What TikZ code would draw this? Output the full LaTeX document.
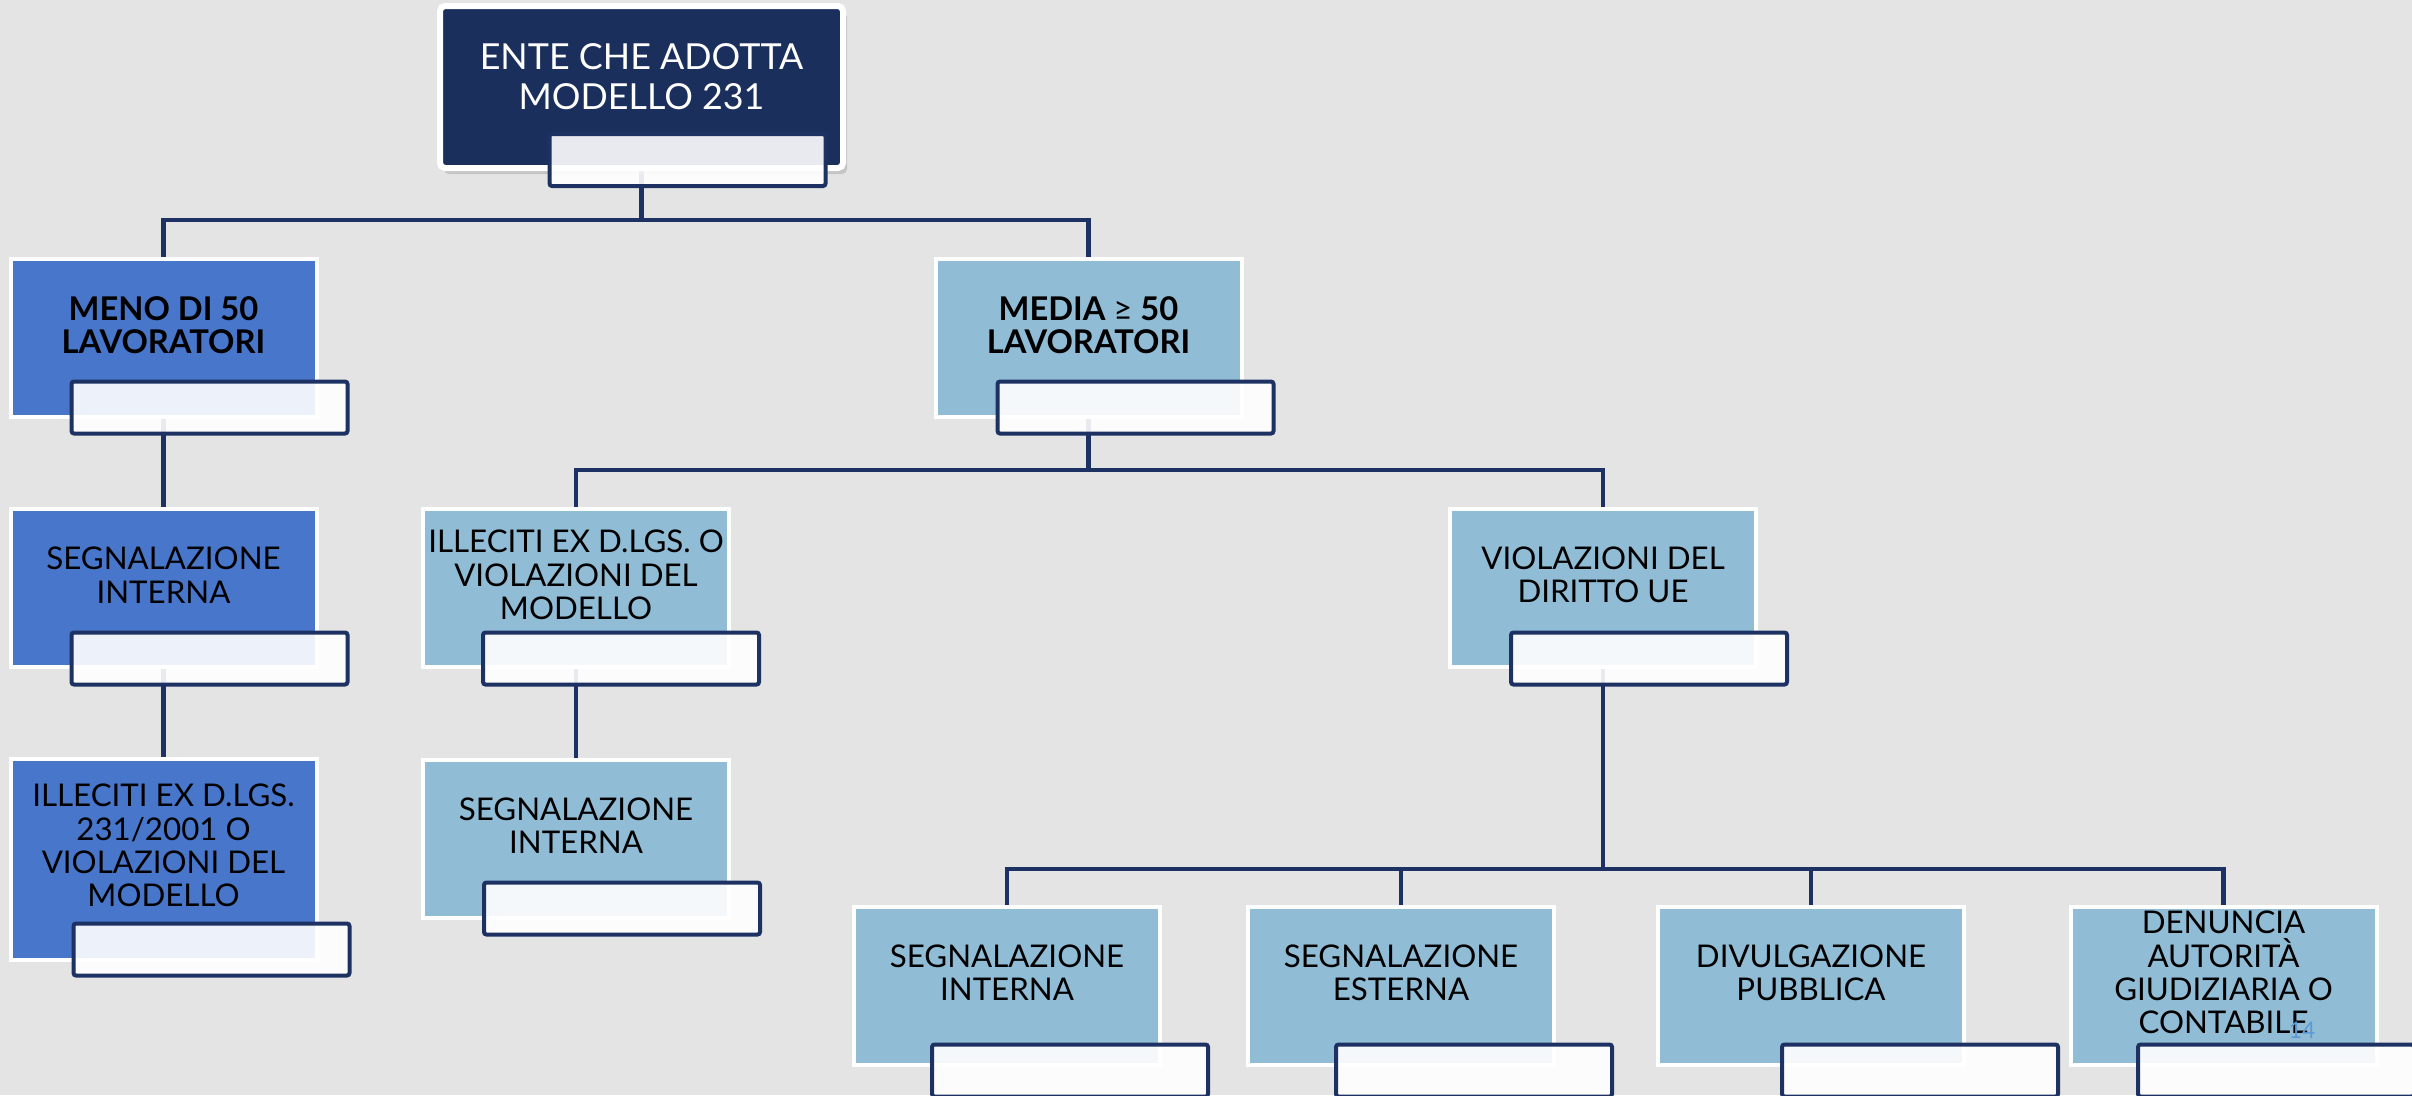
\documentclass[tikz,border=0pt]{standalone}
\usepackage{fontspec}
\setmainfont{Lato}
\usetikzlibrary{calc,positioning,shadows}
\definecolor{paper}{HTML}{E4E4E4}
\definecolor{navy}{HTML}{1D3262}
\definecolor{navyfill}{HTML}{1B2F5C}
\definecolor{royal}{HTML}{4876CB}
\definecolor{sky}{HTML}{90BCD6}
\definecolor{pagenum}{HTML}{5B9BD5}
\pgfdeclarelayer{bg}
\pgfdeclarelayer{lines}
\pgfsetlayers{bg,lines,main}
\tikzset{
  box/.style={draw=white, line width=0.4mm, minimum width=30.6mm, minimum height=15.8mm, inner sep=0pt},
  royalbox/.style={box, fill=royal},
  skybox/.style={box, fill=sky},
  topbox/.style={draw=white, line width=0.6mm, fill=navyfill, rounded corners=0.5mm,
    minimum width=40.3mm, minimum height=16.2mm, inner sep=0pt,
    drop shadow={shadow xshift=0.4mm, shadow yshift=-0.6mm, opacity=0.3}},
  tag/.style={draw=navy, line width=0.4mm, fill=white, fill opacity=0.9, rounded corners=0.25mm,
    minimum width=27.6mm, minimum height=5.2mm, inner sep=0pt},
  link/.style={draw=navy, line width=0.45mm},
  txt/.style={align=center, inner sep=0pt, text=black, font=\fontsize{8.9}{9.5}\selectfont},
  boldtxt/.style={txt, font=\bfseries\fontsize{9.3}{9.3}\selectfont},
}
\begin{document}
\begin{tikzpicture}[x=0.1mm,y=-0.1mm]
\useasboundingbox (0,0) rectangle (2412,1095);
\begin{pgfonlayer}{bg}
\fill[paper] (0,0) rectangle (2412,1095);
\end{pgfonlayer}
\clip (0,0) rectangle (2412,1095);
% boxes
\node[topbox] (ente) at (641.5,87) {};
\node[royalbox] (meno) at (163.5,337.5) {};
\node[skybox] (media) at (1088.5,337.5) {};
\node[royalbox] (segnL) at (163.5,588) {};
\node[skybox] (illM) at (576,588) {};
\node[skybox] (viol) at (1603,588) {};
\node[royalbox, minimum height=20.1mm] (ill231) at (163.5,859.5) {};
\node[skybox] (segnM) at (576,838.5) {};
\node[skybox] (intB) at (1007,985.5) {};
\node[skybox] (estB) at (1401,985.5) {};
\node[skybox] (divB) at (1811,985.5) {};
\node[skybox] (denB) at (2223.5,985.5) {};
% tags
\node[tag] (enteT) at ($(ente.south)+(46,-11)$) {};
\node[tag] (menoT) at ($(meno.south)+(46,-11)$) {};
\node[tag] (mediaT) at ($(media.south)+(47,-11)$) {};
\node[tag] (segnLT) at ($(segnL.south)+(46,-10.5)$) {};
\node[tag] (illMT) at ($(illM.south)+(45,-10.5)$) {};
\node[tag] (violT) at ($(viol.south)+(46,-10.5)$) {};
\node[tag] (ill231T) at ($(ill231.south)+(48,-12.5)$) {};
\node[tag] (segnMT) at ($(segnM.south)+(46,-11)$) {};
\node[tag] (intBT) at ($(intB.south)+(63,4)$) {};
\node[tag] (estBT) at ($(estB.south)+(73,4)$) {};
\node[tag] (divBT) at ($(divB.south)+(109,4)$) {};
\node[tag] (denBT) at ($(denB.south)+(52.5,4)$) {};
% texts
\node[txt, text=white, font=\fontsize{10.2}{11.4}\selectfont] (enteL) at ($(ente.center)+(0,-10)$) {ENTE CHE ADOTTA\\MODELLO 231};
\node[boldtxt] (menoL) at ($(meno.center)+(0,-12)$) {MENO DI 50\\LAVORATORI};
\node[boldtxt] (mediaL) at ($(media.center)+(0,-12)$) {MEDIA {\mdseries ≥} 50\\LAVORATORI};
\node[txt] (segnLL) at ($(segnL.center)+(0,-13)$) {SEGNALAZIONE\\INTERNA};
\node[txt] (illML) at ($(illM.center)+(0,-13)$) {ILLECITI EX D.LGS. O\\VIOLAZIONI DEL\\MODELLO};
\node[txt] (violL) at ($(viol.center)+(0,-13)$) {VIOLAZIONI DEL\\DIRITTO UE};
\node[txt] (ill231L) at ($(ill231.center)+(0,-14)$) {ILLECITI EX D.LGS.\\231/2001 O\\VIOLAZIONI DEL\\MODELLO};
\node[txt] (segnML) at ($(segnM.center)+(0,-13)$) {SEGNALAZIONE\\INTERNA};
\node[txt] (intBL) at ($(intB.center)+(0,-13)$) {SEGNALAZIONE\\INTERNA};
\node[txt] (estBL) at ($(estB.center)+(0,-13)$) {SEGNALAZIONE\\ESTERNA};
\node[txt] (divBL) at ($(divB.center)+(0,-13)$) {DIVULGAZIONE\\PUBBLICA};
\node[txt] (denBL) at ($(denB.center)+(0,-13)$) {DENUNCIA\\AUTORITÀ\\GIUDIZIARIA O\\CONTABILE};
\node[inner sep=0pt, text=pagenum, font=\fontsize{6.5}{7}\selectfont] (pageL) at (2302,1030) {14};
% connectors
\begin{pgfonlayer}{lines}
\coordinate (bus1) at (641.5,220);
\coordinate (bus2) at (1088.5,470);
\coordinate (bus3) at (1603,869);
\draw[link] (ente.center) -- (bus1);
\draw[link] (meno.center) |- (bus1) -| (media.center);
\draw[link] (meno.center) -- (segnL.center) -- (ill231.center);
\draw[link] (media.center) -- (bus2);
\draw[link] (illM.center) |- (bus2) -| (viol.center);
\draw[link] (illM.center) -- (segnM.center);
\draw[link] (viol.center) -- (bus3);
\draw[link] (intB.center) |- (bus3) -| (denB.center);
\foreach \b in {estB,divB}
  \draw[link] (\b.center) -- (\b.center |- bus3);
\end{pgfonlayer}
\end{tikzpicture}
\end{document}
